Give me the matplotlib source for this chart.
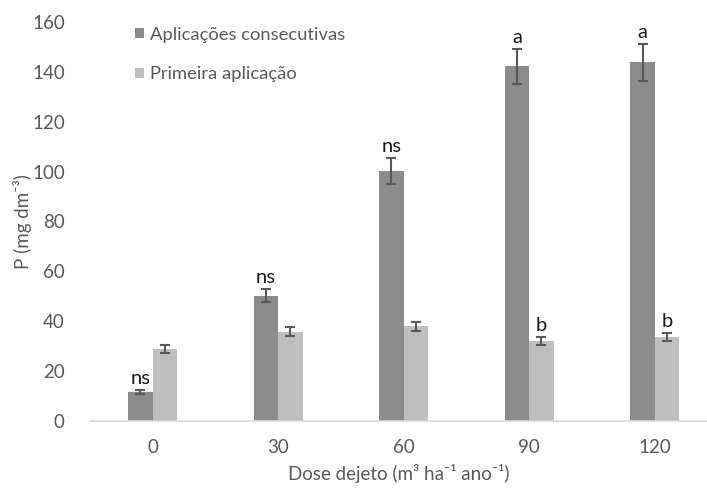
import matplotlib
matplotlib.use('Agg')
import matplotlib.pyplot as plt
import numpy as np

plt.rcParams['font.family'] = ['Lato', 'DejaVu Sans']

doses = ['0', '30', '60', '90', '120']
consecutivas = [11.7, 50.2, 100.2, 142.2, 143.8]
consecutivas_err = [0.8, 2.7, 5.2, 7.1, 7.3]
primeira = [28.9, 35.8, 38.0, 31.9, 33.6]
primeira_err = [1.6, 1.7, 1.8, 1.6, 1.6]
letras_consec = ['ns', 'ns', 'ns', 'a', 'a']
letras_prim = ['', '', '', 'b', 'b']

fig = plt.figure(figsize=(7.07, 4.9), dpi=100)
ax = fig.add_axes([0.127, 0.141, 0.873, 0.814])

x = np.arange(len(doses))
w = 0.195
err_kw = dict(ecolor='#595959', elinewidth=1.5, capsize=3.5, capthick=1.5)

ax.bar(x - w / 2, consecutivas, w, color='#8c8c8c', yerr=consecutivas_err,
       error_kw=err_kw, label='Aplicações consecutivas')
ax.bar(x + w / 2, primeira, w, color='#bfbfbf', yerr=primeira_err,
       error_kw=err_kw, label='Primeira aplicação')

# letras de significância acima das barras
for i in range(len(doses)):
    ax.text(x[i] - w / 2, consecutivas[i] + consecutivas_err[i] + 1.2, letras_consec[i],
            ha='center', va='bottom', fontsize=14.5, color='#1a1a1a')
    if letras_prim[i]:
        ax.text(x[i] + w / 2, primeira[i] + primeira_err[i] + 1.2, letras_prim[i],
                ha='center', va='bottom', fontsize=14.5, color='#1a1a1a')

ax.set_ylim(0, 160)
ax.set_yticks(np.arange(0, 161, 20))
ax.set_xlim(-0.5, 4.416)
ax.set_xticks(x)
ax.set_xticklabels(doses)

for s in ['top', 'right', 'left']:
    ax.spines[s].set_visible(False)
ax.spines['bottom'].set_color('#d9d9d9')
ax.spines['bottom'].set_linewidth(1.2)
ax.tick_params(axis='both', length=0, labelsize=13.5, colors='#595959', pad=13)
ax.tick_params(axis='y', pad=18)

ax.set_ylabel('P (mg dm⁻³)', fontsize=13.5, color='#595959', labelpad=0)
ax.set_xlabel('Dose dejeto (m³ ha⁻¹ ano⁻¹)', fontsize=13.5,
              color='#595959', labelpad=6)

leg = ax.legend(loc='upper left', bbox_to_anchor=(0.046, 1.03), frameon=False,
                fontsize=13.2, handlelength=0.5, handleheight=0.5,
                handletextpad=0.35, labelspacing=1.3)
for t in leg.get_texts():
    t.set_color('#595959')

fig.savefig('out.png', dpi=100)
